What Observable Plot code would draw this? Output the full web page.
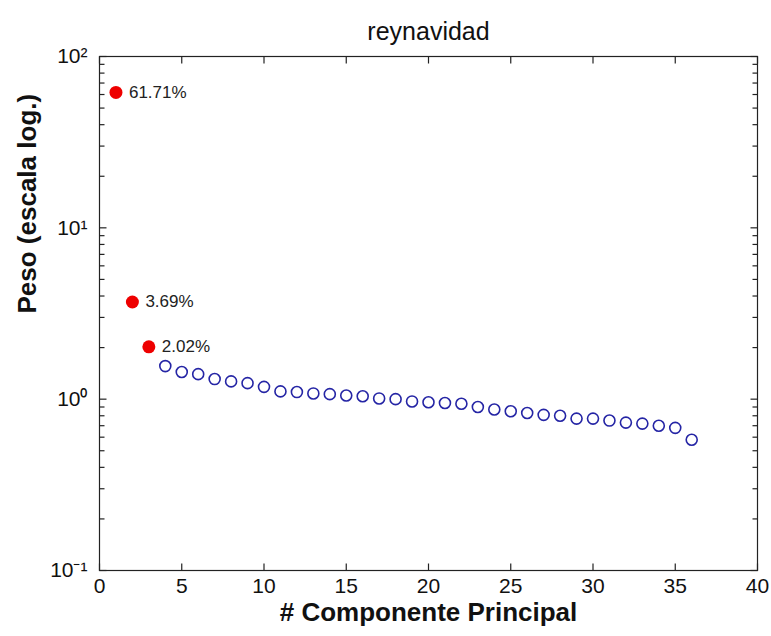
<!DOCTYPE html>
<html><head><meta charset="utf-8">
<script src="https://cdn.jsdelivr.net/npm/d3@7"></script>
<script src="https://cdn.jsdelivr.net/npm/@observablehq/plot@0.6"></script>
<style>
body{margin:0;background:#fff}
#chart svg{font-family:"Liberation Sans",Arial,sans-serif;background:#fff}
</style>
</head><body><div id="chart"></div>
<script>
const title = "reynavidad";
const xLabel = "# Componente Principal";
const yLabel = "Peso (escala log.)";
const component = [1,2,3,4,5,6,7,8,9,10,11,12,13,14,15,16,17,18,19,20,21,22,23,24,25,26,27,28,29,30,31,32,33,34,35,36];
const weight = [61.71,3.69,2.02,1.56,1.44,1.40,1.31,1.27,1.24,1.18,1.11,1.10,1.08,1.07,1.05,1.04,1.01,1.00,0.97,0.96,0.95,0.94,0.90,0.87,0.85,0.83,0.81,0.80,0.77,0.77,0.75,0.73,0.72,0.70,0.68,0.58];
const pctLabels = ["61.71%","3.69%","2.02%"];
const xTicks = [0,5,10,15,20,25,30,35,40];
const yTicks = [0.1,1,10,100];
const yTickLabels = ["10\u207B\u00B9","10\u2070","10\u00B9","10\u00B2"];
const yMinorTicks = [0.2,0.3,0.4,0.5,0.6,0.7,0.8,0.9,2,3,4,5,6,7,8,9,20,30,40,50,60,70,80,90];
const xDomain = [0, 40];
const yDomain = [0.1, 100];

const rows = component.map((c,i) => ({c, w: weight[i], lab: pctLabels[i]}));
const top3 = rows.filter(d => d.lab);
const rest = rows.filter(d => !d.lab);
const yFmt = v => yTickLabels[yTicks.indexOf(v)];
const tickColor = "#222";
const [x0, x1] = xDomain;
const [y0, y1] = yDomain;

// inward tick glyphs (custom symbols: a short line from the anchor point)
const tickSym = (dx, dy) => ({draw(ctx) { ctx.moveTo(0, 0); ctx.lineTo(dx, dy); }});
const up7 = tickSym(0, -7), down7 = tickSym(0, 7);
const right7 = tickSym(7, 0), left7 = tickSym(-7, 0);
const right5 = tickSym(5, 0), left5 = tickSym(-5, 0);
const tickOpts = {stroke: tickColor, fill: "none", strokeWidth: 1.2, r: 3};

const chart = Plot.plot({
  width: 771, height: 636,
  marginLeft: 99, marginRight: 14, marginTop: 56, marginBottom: 66,
  x: {domain: xDomain},
  y: {type: "log", domain: yDomain},
  marks: [
    Plot.axisX(xTicks, {anchor: "bottom", tickSize: 0, tickPadding: 8, tickFormat: d => d, fontSize: 21, fill: "#111", label: null}),
    Plot.axisY(yTicks, {anchor: "left", tickSize: 0, tickPadding: 12, tickFormat: yFmt, fontSize: 21, fill: "#111", label: null}),
    Plot.dot(xTicks, {x: d => d, y: () => y0, symbol: up7, ...tickOpts}),
    Plot.dot(xTicks, {x: d => d, y: () => y1, symbol: down7, ...tickOpts}),
    Plot.dot(yTicks, {x: () => x0, y: d => d, symbol: right7, ...tickOpts}),
    Plot.dot(yMinorTicks, {x: () => x0, y: d => d, symbol: right5, ...tickOpts}),
    Plot.dot(yTicks, {x: () => x1, y: d => d, symbol: left7, ...tickOpts}),
    Plot.dot(yMinorTicks, {x: () => x1, y: d => d, symbol: left5, ...tickOpts}),
    Plot.frame({stroke: "#222", strokeWidth: 1.2}),
    Plot.dot(rest, {x: "c", y: "w", r: 5.5, stroke: "#2525a5", strokeWidth: 1.6, fill: "none"}),
    Plot.dot(top3, {x: "c", y: "w", r: 6.5, fill: "#ee0000", stroke: "none"}),
    Plot.text(top3, {x: "c", y: "w", text: "lab", textAnchor: "start", dx: 13, fontSize: 17, fill: "#222"}),
    Plot.text([title], {frameAnchor: "top", dy: -34, fontSize: 25, fill: "#111"}),
    Plot.text([xLabel], {frameAnchor: "bottom", dy: 50, fontSize: 26, fontWeight: "bold", fill: "#111"}),
    Plot.text([yLabel], {frameAnchor: "left", rotate: -90, dx: -72, fontSize: 26, fontWeight: "bold", fill: "#111"})
  ]
});
document.getElementById("chart").append(chart);
</script>
</body></html>
